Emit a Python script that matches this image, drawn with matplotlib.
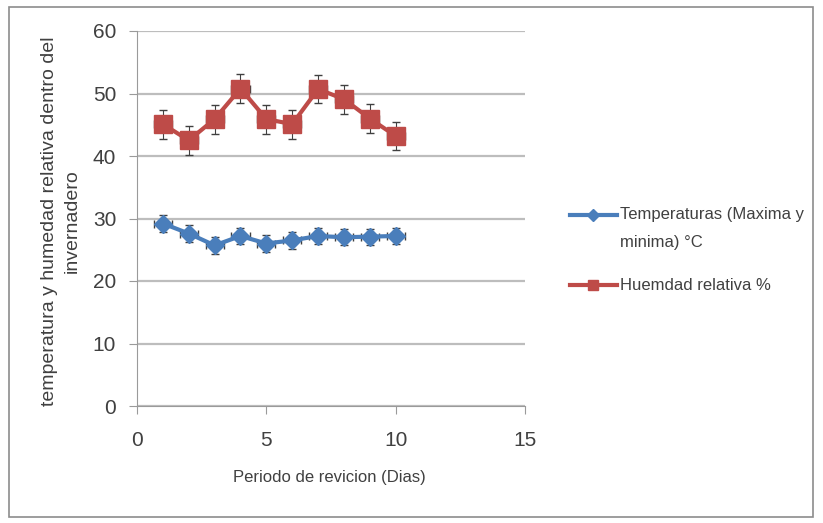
import matplotlib.pyplot as plt
from matplotlib.patches import Rectangle
from matplotlib.lines import Line2D

plt.rcParams['font.family'] = ['Liberation Sans', 'DejaVu Sans']

dias = [1, 2, 3, 4, 5, 6, 7, 8, 9, 10]
temperatura = [29.2, 27.6, 25.7, 27.2, 26.0, 26.5, 27.2, 27.0, 27.1, 27.2]
humedad = [45.1, 42.5, 45.9, 50.8, 45.9, 45.1, 50.7, 49.1, 46.0, 43.2]
err_temp = [1.3, 1.3, 1.3, 1.3, 1.3, 1.3, 1.3, 1.3, 1.3, 1.3]
err_hum = [2.3, 2.3, 2.3, 2.3, 2.3, 2.3, 2.3, 2.3, 2.3, 2.3]
err_x = 0.35

azul = '#4a7ebb'
rojo = '#be4b48'
texto = '#404040'

W, H = 823, 523
fig = plt.figure(figsize=(W / 100, H / 100), dpi=100)
ax = fig.add_axes([137 / W, 1 - 406 / H, (525 - 137) / W, (406 - 31) / H])

# marco exterior del grafico
fig.patches.append(Rectangle((9 / W, 6 / H), 804 / W, 510 / H, transform=fig.transFigure,
                             fill=False, edgecolor='#8c8c8c', lw=1.2))

ax.errorbar(dias, temperatura, yerr=err_temp, xerr=err_x, color=azul, lw=3, marker='D',
            markersize=9, ecolor='#404040', elinewidth=0.8, capsize=3, zorder=3)
ax.errorbar(dias, humedad, yerr=err_hum, xerr=err_x, color=rojo, lw=3, marker='s',
            markersize=13, ecolor='#404040', elinewidth=0.8, capsize=3, zorder=3)

ax.set_xlim(0, 15)
ax.set_ylim(0, 60)
ax.set_xticks([0, 5, 10, 15])
ax.set_yticks(range(0, 61, 10))
ax.yaxis.grid(True, color='#bdbdbd', lw=1.6)
ax.set_axisbelow(True)
for s in ['top', 'right']:
    ax.spines[s].set_visible(False)
ax.spines['left'].set_color('#9a9a9a')
ax.spines['bottom'].set_color('#9a9a9a')
ax.tick_params(colors='#9a9a9a', labelcolor=texto, labelsize=15, length=6)
ax.tick_params(axis='x', pad=12)
ax.tick_params(axis='y', pad=9)

ax.set_xlabel('Periodo de revicion (Dias)', fontsize=12, color=texto)
ax.xaxis.set_label_coords(0.497, -0.171)
ax.set_ylabel('temperatura y humedad relativa dentro del\ninvernadero', fontsize=14,
              color=texto, linespacing=1.4)
ax.yaxis.label.set_va('center')
ax.yaxis.set_label_coords(-0.196, 0.493)

# leyenda a la derecha
def fx(px):
    return px / W

def fy(py):
    return 1 - py / H

fig.add_artist(Line2D([fx(570), fx(593), fx(617)], [fy(215)] * 3, transform=fig.transFigure,
                      color=azul, lw=3, marker='D', markersize=6, markevery=[1]))
fig.add_artist(Line2D([fx(570), fx(593), fx(617)], [fy(285)] * 3, transform=fig.transFigure,
                      color=rojo, lw=3, marker='s', markersize=7, markevery=[1]))
fig.text(fx(620), fy(215), 'Temperaturas (Maxima y', fontsize=12, color=texto, va='center')
fig.text(fx(620), fy(243), 'minima) °C', fontsize=12, color=texto, va='center')
fig.text(fx(620), fy(285), 'Huemdad relativa %', fontsize=12, color=texto, va='center')

fig.savefig('out.png', dpi=100)
